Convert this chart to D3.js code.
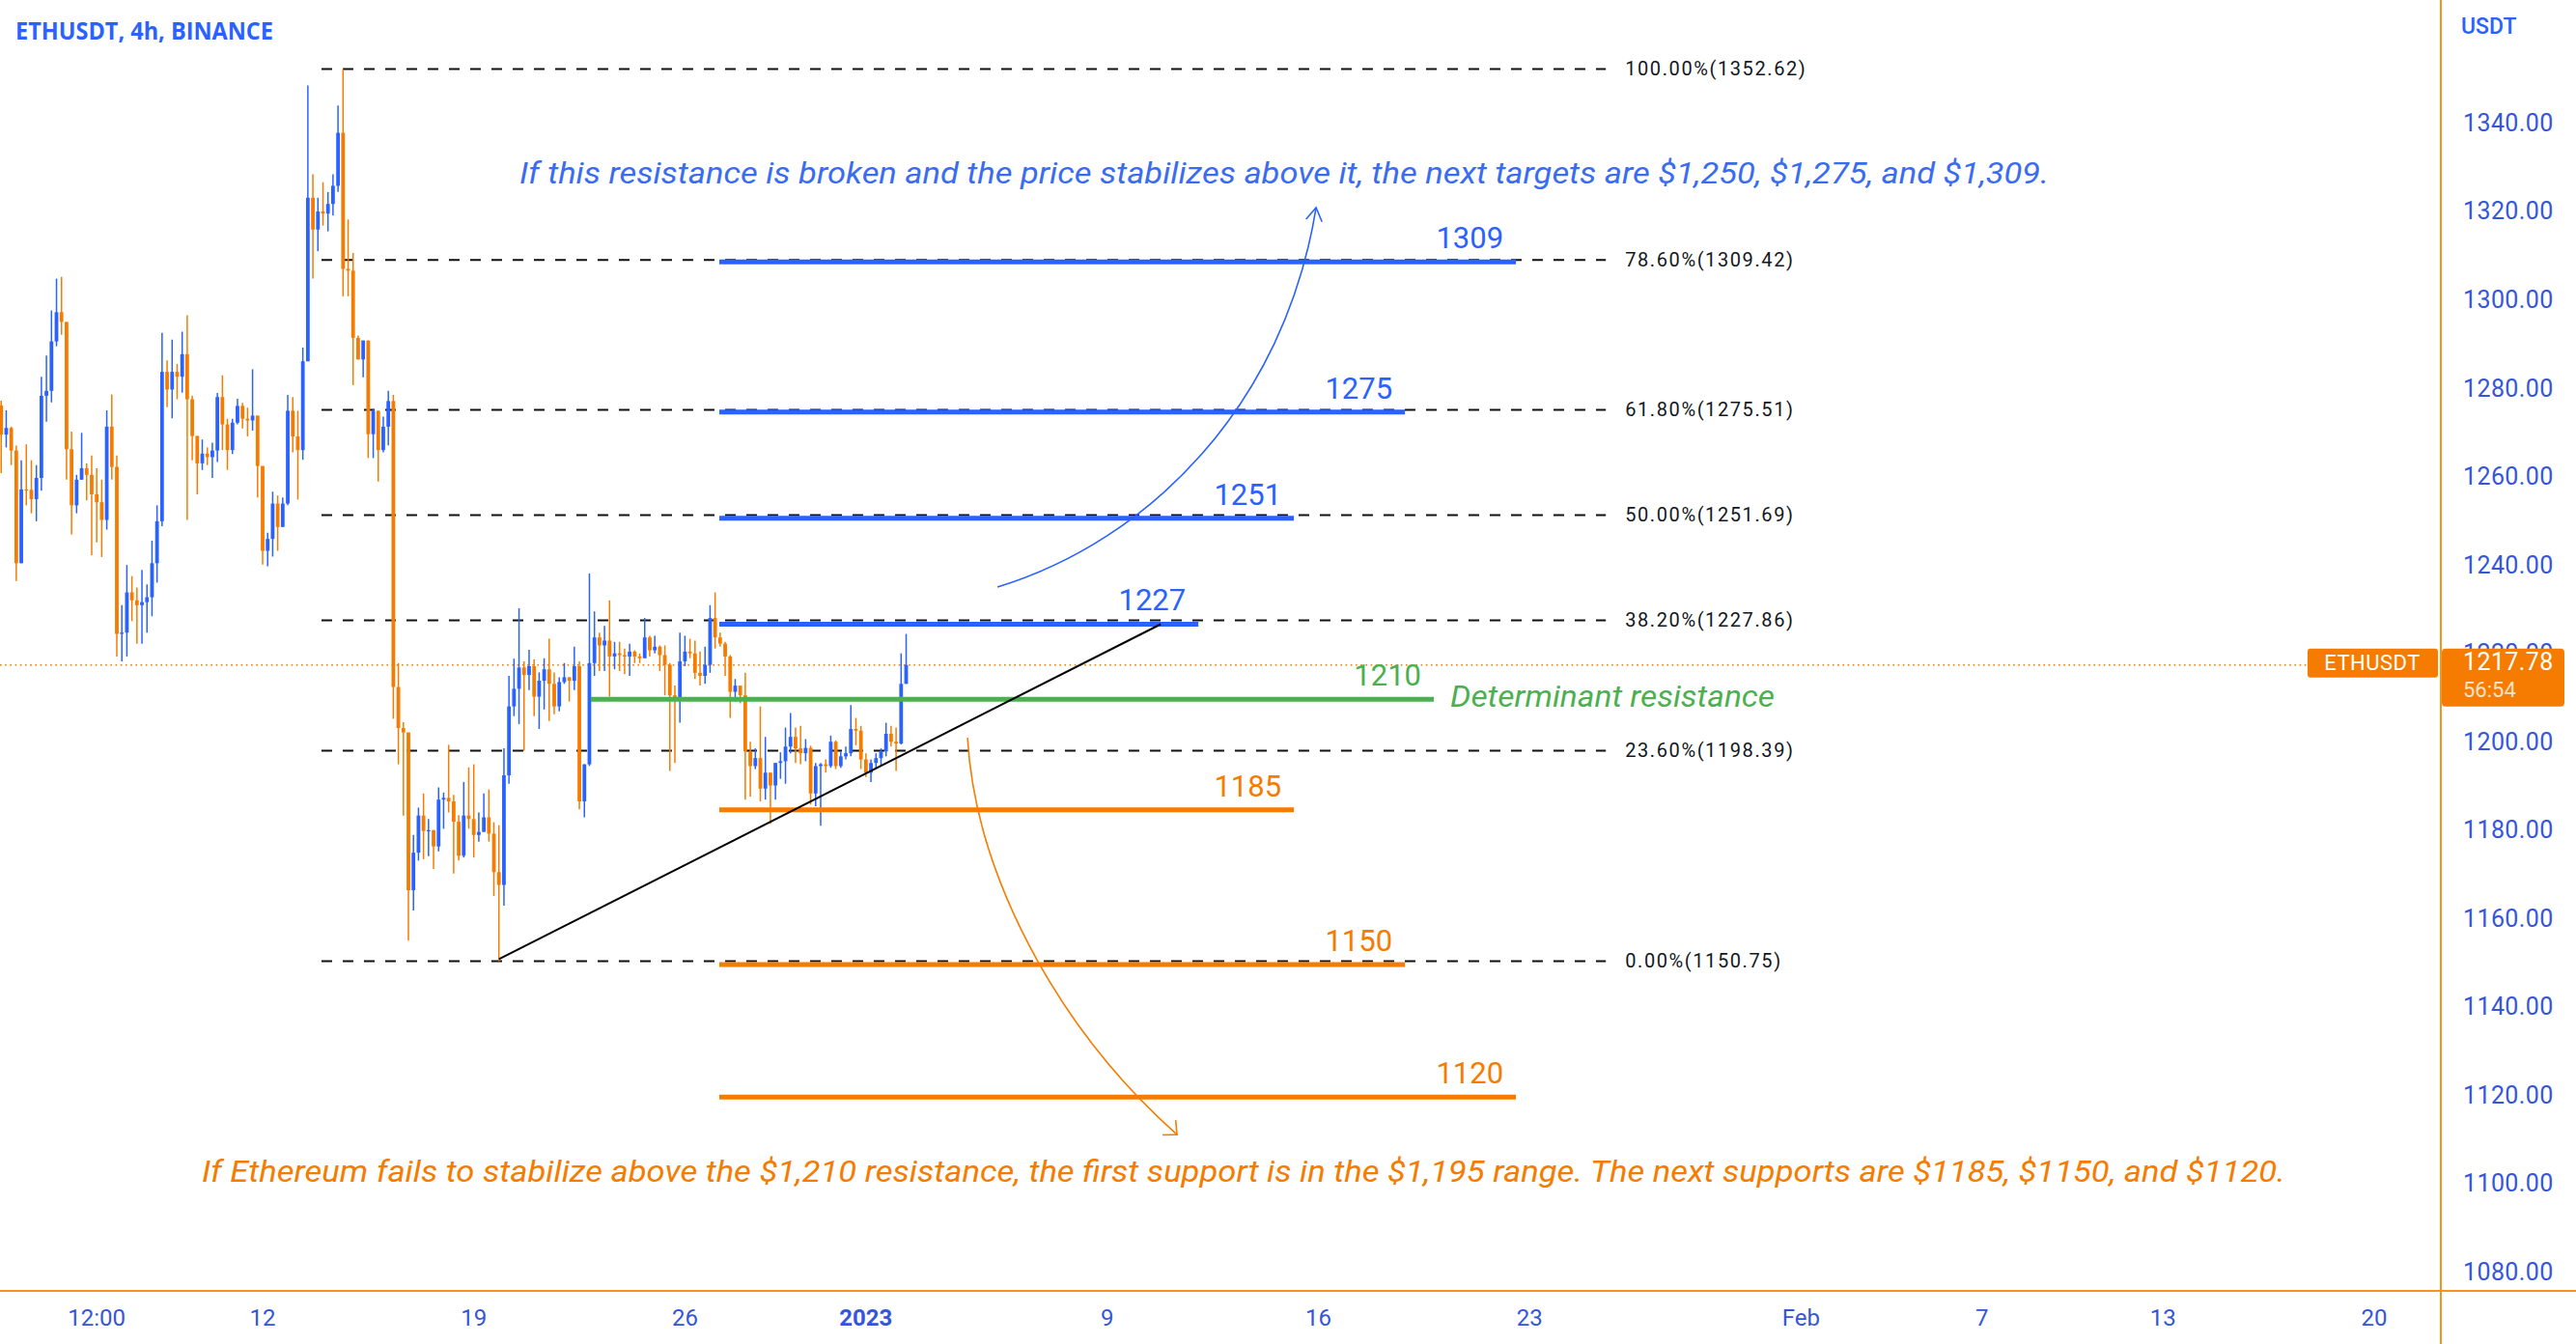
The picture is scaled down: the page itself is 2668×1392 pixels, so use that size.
<!DOCTYPE html>
<html><head><meta charset="utf-8">
<script src="https://cdn.jsdelivr.net/npm/d3@7"></script>
<style>html,body{margin:0;padding:0;background:#fff;overflow:hidden}</style>
</head><body>
<svg id="chart" width="2668" height="1392" xmlns="http://www.w3.org/2000/svg"></svg>
<script>
// ---------------- DATA ----------------
const symbolTitle = "ETHUSDT, 4h, BINANCE";
const currencyLabel = "USDT";
const candleStart = "2022-12-03T08:00:00Z";   // first visible 4h candle
const candleHours = 4;
const firstOpen = 1276.5;
const closes = [1269.9,1271.4,1266.3,1240.8,1257.5,1257.4,1255.3,1260.1,1278.7,1279.8,
1291.0,1297.6,1295.4,1266.6,1253.9,1259.7,1262.3,1260.8,1256.4,1254.6,
1250.6,1271.7,1262.6,1224.8,1225.1,1234.2,1232.4,1231.3,1232.0,1233.1,
1240.8,1250.3,1284.1,1280.1,1284.1,1283.0,1288.1,1277.9,1269.6,1263.4,
1265.6,1264.8,1266.3,1278.4,1272.2,1266.4,1272.6,1276.4,1273.5,1273.1,
1274.2,1262.8,1243.6,1246.3,1254.3,1249.0,1254.3,1275.3,1269.5,1266.4,
1286.5,1323.5,1316.3,1320.4,1319.9,1322.1,1326.2,1338.2,1307.4,1307.0,
1291.8,1286.9,1291.2,1270.0,1275.3,1266.4,1271.7,1277.5,1212.8,1203.5,
1202.5,1166.8,1175.3,1183.7,1180.2,1180.4,1176.7,1187.3,1187.7,1186.9,
1182.3,1174.6,1183.7,1182.9,1179.3,1180.0,1183.3,1179.6,1170.9,1168.0,
1192.8,1208.4,1212.4,1217.2,1215.5,1217.5,1210.6,1214.2,1216.8,1213.5,
1208.4,1213.9,1215.0,1214.2,1217.5,1186.9,1195.3,1218.2,1224.0,1222.2,
1223.3,1219.7,1220.4,1220.0,1219.7,1220.8,1219.7,1219.3,1224.0,1221.1,
1221.9,1220.0,1217.8,1210.9,1210.2,1218.6,1220.8,1220.4,1216.0,1215.3,
1217.8,1228.4,1224.0,1222.6,1219.7,1211.7,1213.1,1210.9,1198.2,1194.9,
1196.7,1189.8,1193.4,1190.5,1195.6,1196.0,1199.3,1201.5,1198.9,1197.8,
1199.0,1188.7,1194.9,1195.3,1194.9,1200.4,1194.9,1197.1,1197.8,1203.3,
1202.9,1196.4,1193.4,1195.6,1196.7,1198.2,1202.2,1200.4,1200.0,1213.5,
1217.78];
const highs = [1277.6,1275.4,1271.7,1267.4,1264.1,1267.7,1264.1,1263.0,1283.0,1287.8,
1298.0,1305.2,1305.6,1295.4,1270.6,1260.8,1270.3,1263.4,1265.2,1262.3,
1259.7,1275.4,1279.0,1265.2,1231.3,1240.4,1237.9,1235.3,1239.3,1236.0,
1245.9,1253.9,1292.9,1286.7,1291.4,1285.9,1293.2,1296.9,1278.7,1269.6,
1268.8,1267.0,1268.1,1279.3,1283.3,1273.5,1273.5,1278.0,1277.1,1276.0,
1284.7,1274.2,1262.8,1247.7,1257.0,1256.1,1255.7,1278.9,1278.4,1275.3,
1289.6,1348.9,1328.8,1323.5,1327.0,1324.8,1328.8,1344.4,1352.62,1318.6,
1311.0,1292.3,1291.2,1291.2,1275.7,1275.3,1274.0,1279.8,1278.9,1218.2,
1204.8,1202.5,1179.3,1185.5,1188.7,1182.9,1180.2,1190.1,1188.9,1199.7,
1188.4,1183.8,1191.3,1194.6,1195.3,1184.4,1188.7,1189.6,1182.2,1181.5,
1198.9,1215.3,1219.2,1230.6,1218.6,1221.2,1219.0,1216.1,1219.3,1223.7,
1216.1,1215.0,1218.2,1215.0,1221.9,1218.6,1195.3,1238.5,1229.9,1225.1,
1226.6,1232.4,1223.0,1223.0,1221.5,1222.6,1221.1,1220.4,1228.4,1224.4,
1224.4,1222.2,1222.2,1218.2,1213.1,1225.1,1224.4,1223.7,1223.3,1220.8,
1221.9,1231.3,1234.2,1225.1,1223.0,1220.0,1214.6,1213.1,1216.0,1200.4,
1198.9,1208.4,1201.5,1193.4,1195.6,1198.0,1203.6,1206.9,1203.6,1204.0,
1201.0,1199.5,1195.6,1195.6,1196.4,1201.8,1200.7,1198.2,1199.3,1208.7,
1205.8,1204.0,1197.8,1196.4,1197.8,1198.9,1204.7,1204.0,1203.6,1220.4,
1224.8];
const lows = [1261.2,1267.0,1263.0,1236.8,1240.8,1253.9,1252.1,1250.3,1257.2,1272.8,
1277.2,1289.9,1292.5,1259.7,1247.3,1252.1,1259.7,1255.0,1242.6,1245.5,
1242.2,1248.4,1259.7,1219.7,1218.6,1219.7,1227.7,1222.6,1222.6,1225.1,
1228.8,1236.4,1249.2,1276.1,1273.6,1277.9,1279.4,1250.6,1264.1,1256.4,
1261.9,1263.0,1260.1,1263.7,1266.4,1261.9,1265.5,1272.2,1271.3,1269.5,
1270.8,1255.7,1240.5,1240.1,1242.3,1243.6,1249.0,1253.9,1265.9,1255.2,
1264.2,1286.5,1305.2,1311.4,1317.2,1315.9,1319.5,1324.8,1301.2,1301.2,
1281.1,1286.9,1282.9,1264.6,1264.6,1259.3,1265.9,1267.5,1205.6,1195.3,
1183.7,1155.4,1162.2,1173.5,1173.8,1174.5,1171.6,1175.6,1180.7,1184.4,
1170.6,1173.5,1174.2,1180.7,1174.2,1177.8,1180.0,1177.8,1165.5,1150.75,
1163.3,1190.9,1206.2,1204.4,1198.4,1212.1,1206.2,1203.3,1207.7,1205.1,
1206.6,1207.3,1213.5,1209.5,1212.1,1185.1,1183.3,1194.9,1215.3,1216.4,
1216.4,1210.6,1216.8,1216.4,1215.7,1215.3,1218.2,1218.2,1219.3,1219.7,
1220.4,1216.4,1210.9,1193.8,1195.6,1204.7,1217.5,1219.3,1214.6,1213.1,
1213.5,1216.0,1221.5,1221.9,1215.3,1205.8,1209.5,1209.1,1187.3,1188.0,
1194.2,1186.9,1187.3,1181.8,1187.3,1192.0,1190.9,1197.8,1195.6,1195.3,
1196.0,1186.2,1185.8,1181.4,1193.4,1194.5,1194.2,1194.5,1196.4,1197.1,
1199.6,1194.2,1192.4,1191.3,1194.5,1194.9,1197.1,1199.3,1193.8,1199.8,
1213.5];
const lastPrice = 1217.78;
const countdown = "56:54";

// y axis ticks
const yTicks = [1080,1100,1120,1140,1160,1180,1200,1220,1240,1260,1280,1300,1320,1340];
// x axis ticks
const xTickDates = ["2022-12-06T12:00Z","2022-12-12T00:00Z","2022-12-19T00:00Z","2022-12-26T00:00Z",
  "2023-01-01T00:00Z","2023-01-09T00:00Z","2023-01-16T00:00Z","2023-01-23T00:00Z",
  "2023-02-01T00:00Z","2023-02-07T00:00Z","2023-02-13T00:00Z","2023-02-20T00:00Z"];
const xTickLabels = ["12:00","12","19","26","2023","9","16","23","Feb","7","13","20"];
const xTickBold = ["2023"];

// Fibonacci retracement
const fibValues = [1352.62,1309.42,1275.51,1251.69,1227.86,1198.39,1150.75];
const fibRatios = ["100.00%","78.60%","61.80%","50.00%","38.20%","23.60%","0.00%"];
const fibFrom = "2022-12-13T22:50Z";
const fibTo = "2023-01-25T12:40Z";

// horizontal target / support levels
const levelStart = "2022-12-27T03:20Z";
const resistValues = [1227,1251,1275,1309];
const resistEnds = ["2023-01-12T00:30Z","2023-01-15T04:30Z","2023-01-18T20:50Z","2023-01-22T13:10Z"];
const supportValues = [1185,1150,1120];
const supportEnds = ["2023-01-15T04:30Z","2023-01-18T20:50Z","2023-01-22T13:10Z"];
const keyValue = 1210;
const keyStart = "2022-12-22T21:10Z";
const keyEnd = "2023-01-19T19:50Z";
const keyText = "Determinant resistance";
const keyTextAt = ["2023-01-20T08:55Z", 1210];

// trend line (time, price)
const trendLine = [["2022-12-19T20:00Z",1151.2],["2023-01-10T18:30Z",1227.0]];

// curved arrows (cubic control points, time/price)
const upArrow = [["2023-01-05T08:40Z",1235.4],["2023-01-10T09:20Z",1245.9],["2023-01-14T20:50Z",1276.5],["2023-01-15T22:10Z",1321.3]];
const downArrow = [["2023-01-04T08:50Z",1201.3],["2023-01-04T14:55Z",1171.6],["2023-01-07T04:20Z",1136.6],["2023-01-11T07:30Z",1111.5]];

// annotation texts
const upText = "If this resistance is broken and the price stabilizes above it, the next targets are $1,250, $1,275, and $1,309.";
const upTextAt = ["2022-12-20T12:20Z", 1328.5];
const downText = "If Ethereum fails to stabilize above the $1,210 resistance, the first support is in the $1,195 range. The next supports are $1185, $1150, and $1120.";
const downTextAt = ["2022-12-09T23:35Z", 1102.6];

// ---------------- STYLE ----------------
const W = 2668, H = 1392;
const BLUE = "#2962ff", ORANGE = "#f57c00", GREEN = "#4caf50", AXIS = "#f7931e", TICK = "#3556d8";
const axisX = 2528, axisY = 1337;

const svg = d3.select("#chart");
svg.append("rect").attr("width", W).attr("height", H).attr("fill", "#fff");

const x = d3.scaleUtc().domain([new Date("2022-12-12T00:00Z"), new Date("2023-02-20T00:00Z")]).range([272, 2459]);
const y = d3.scaleLinear().domain([1080, 1340]).range([1319.3, 129.3]);
const P = p => [x(new Date(p[0])), y(p[1])];

// candles
const t0 = new Date(candleStart).getTime();
const candles = closes.map((c, i) => {
  const o = i === 0 ? firstOpen : closes[i - 1];
  return { t: new Date(t0 + i * candleHours * 3600e3), o, c,
           h: Math.max(highs[i], o, c), l: Math.min(lows[i], o, c) };
});

const plot = svg.append("g");
// fib dashed lines
const fx0 = x(new Date(fibFrom)), fx1 = x(new Date(fibTo));
plot.selectAll("line.fib").data(fibValues).join("line")
  .attr("x1", fx0).attr("x2", fx1).attr("y1", d => y(d)).attr("y2", d => y(d))
  .attr("stroke", "#111").attr("stroke-width", 2).attr("stroke-dasharray", "11,11");
plot.selectAll("text.fib").data(fibValues).join("text")
  .attr("x", fx1 + 20).attr("y", d => y(d) + 1).attr("dominant-baseline", "middle")
  .attr("font-family", "Roboto").attr("font-size", 20).attr("letter-spacing", 1.6)
  .attr("fill", "#131722").text((d, i) => `${fibRatios[i]}(${d.toFixed(2)})`);

// price dotted line
const py = y(lastPrice);
plot.append("line").attr("x1", 0).attr("x2", 2390).attr("y1", py).attr("y2", py)
  .attr("stroke", ORANGE).attr("stroke-width", 1.6).attr("stroke-dasharray", "1.6,3.6");

// candles
const cg = plot.append("g");
cg.selectAll("line").data(candles).join("line")
  .attr("x1", d => x(d.t)).attr("x2", d => x(d.t))
  .attr("y1", d => y(d.h)).attr("y2", d => y(d.l))
  .attr("stroke", d => d.c >= d.o ? BLUE : ORANGE).attr("stroke-width", 1.5);
cg.selectAll("rect").data(candles).join("rect")
  .attr("x", d => x(d.t) - 1.9).attr("width", 3.8)
  .attr("y", d => y(Math.max(d.o, d.c)))
  .attr("height", d => Math.max(1.2, Math.abs(y(d.o) - y(d.c))))
  .attr("fill", d => d.c >= d.o ? BLUE : ORANGE);

// levels
const lx0 = x(new Date(levelStart));
function level(v, end, color, start) {
  const xs = start ? x(new Date(start)) : lx0, xe = x(new Date(end));
  plot.append("line").attr("x1", xs).attr("x2", xe).attr("y1", y(v)).attr("y2", y(v))
    .attr("stroke", color).attr("stroke-width", 5);
  plot.append("text").attr("x", xe - 13).attr("y", y(v) - 14).attr("text-anchor", "end")
    .attr("font-family", "Roboto").attr("font-size", 31).attr("fill", color).text(String(v));
}
resistValues.forEach((v, i) => level(v, resistEnds[i], BLUE));
supportValues.forEach((v, i) => level(v, supportEnds[i], ORANGE));
level(keyValue, keyEnd, GREEN, keyStart);
plot.append("text").attr("x", P(keyTextAt)[0]).attr("y", P(keyTextAt)[1])
  .attr("dominant-baseline", "middle").attr("font-family", "Roboto").attr("font-style", "italic")
  .attr("font-size", 31).attr("fill", GREEN).attr("textLength", 336).attr("lengthAdjust", "spacingAndGlyphs").text(keyText);

// trend line
plot.append("path").attr("d", d3.line()(trendLine.map(P)))
  .attr("stroke", "#000").attr("stroke-width", 2).attr("fill", "none");

// arrows
function arrow(pts, color, ang, len) {
  const p = pts.map(P);
  const path = d3.path();
  path.moveTo(...p[0]); path.bezierCurveTo(...p[1], ...p[2], ...p[3]);
  plot.append("path").attr("d", path.toString()).attr("stroke", color)
    .attr("stroke-width", 1.6).attr("fill", "none");
  const a = Math.atan2(p[3][1] - p[2][1], p[3][0] - p[2][0]);
  const arms = [a + Math.PI - ang, a + Math.PI + ang].map(b => [p[3][0] + len * Math.cos(b), p[3][1] + len * Math.sin(b)]);
  plot.append("path").attr("d", `M${arms[0]}L${p[3]}L${arms[1]}`).attr("stroke", color)
    .attr("stroke-width", 1.6).attr("fill", "none");
}
arrow(upArrow, BLUE, 0.55, 16);
arrow(downArrow, ORANGE, 0.75, 15);

// annotation texts
plot.append("text").attr("x", P(upTextAt)[0]).attr("y", P(upTextAt)[1]).attr("dominant-baseline", "middle")
  .attr("font-family", "Roboto").attr("font-style", "italic").attr("font-size", 31)
  .attr("fill", "#3a6cf0").attr("textLength", 1584).attr("lengthAdjust", "spacingAndGlyphs").text(upText);
plot.append("text").attr("x", P(downTextAt)[0]).attr("y", P(downTextAt)[1]).attr("dominant-baseline", "middle")
  .attr("font-family", "Roboto").attr("font-style", "italic").attr("font-size", 31)
  .attr("fill", ORANGE).attr("textLength", 2158).attr("lengthAdjust", "spacingAndGlyphs").text(downText);

// title
svg.append("text").attr("x", 16).attr("y", 41).attr("font-family", "Open Sans").attr("font-weight", 700)
  .attr("font-size", 25).attr("fill", BLUE).attr("textLength", 267).attr("lengthAdjust", "spacingAndGlyphs")
  .text(symbolTitle);

// axes frame
svg.append("line").attr("x1", axisX).attr("x2", axisX).attr("y1", 0).attr("y2", H).attr("stroke", AXIS).attr("stroke-width", 2);
svg.append("line").attr("x1", 0).attr("x2", W).attr("y1", axisY).attr("y2", axisY).attr("stroke", AXIS).attr("stroke-width", 2);

// y tick labels (1220 sits partly behind the price tag, as in the original)
svg.append("text").attr("x", 2549).attr("y", 35).attr("font-family", "Roboto").attr("font-weight", 500)
  .attr("font-size", 23).attr("fill", BLUE).text(currencyLabel);
svg.selectAll("text.yt").data(yTicks).join("text").attr("class", "yt")
  .attr("x", 2551).attr("y", d => y(d)).attr("dominant-baseline", "middle")
  .attr("font-family", "Roboto").attr("font-size", 25).attr("letter-spacing", 0.4)
  .attr("fill", TICK).text(d => d.toFixed(2));

// x tick labels
svg.selectAll("text.xt").data(xTickDates).join("text").attr("class", "xt")
  .attr("x", d => x(new Date(d))).attr("y", 1367).attr("dominant-baseline", "middle")
  .attr("text-anchor", "middle").attr("font-family", "Roboto").attr("font-size", 24)
  .attr("font-weight", (d, i) => xTickBold.includes(xTickLabels[i]) ? 700 : 400)
  .attr("fill", TICK).text((d, i) => xTickLabels[i]);

// price tags
svg.append("rect").attr("x", 2390).attr("y", py - 17).attr("width", 135).attr("height", 30).attr("rx", 3).attr("fill", ORANGE);
svg.append("text").attr("x", 2457).attr("y", py - 1).attr("dominant-baseline", "middle").attr("text-anchor", "middle")
  .attr("font-family", "Roboto").attr("font-size", 22).attr("letter-spacing", 0.5).attr("fill", "#fff").text("ETHUSDT");
svg.append("rect").attr("x", 2529).attr("y", py - 17).attr("width", 127).attr("height", 60).attr("rx", 4).attr("fill", ORANGE);
svg.append("text").attr("x", 2551).attr("y", py - 1).attr("dominant-baseline", "middle")
  .attr("font-family", "Roboto").attr("font-size", 25).attr("letter-spacing", 0.4).attr("fill", "#fff").text(lastPrice.toFixed(2));
svg.append("text").attr("x", 2551).attr("y", py + 27).attr("dominant-baseline", "middle")
  .attr("font-family", "Roboto").attr("font-size", 22).attr("fill", "rgba(255,255,255,0.8)").text(countdown);
</script>
</body></html>
